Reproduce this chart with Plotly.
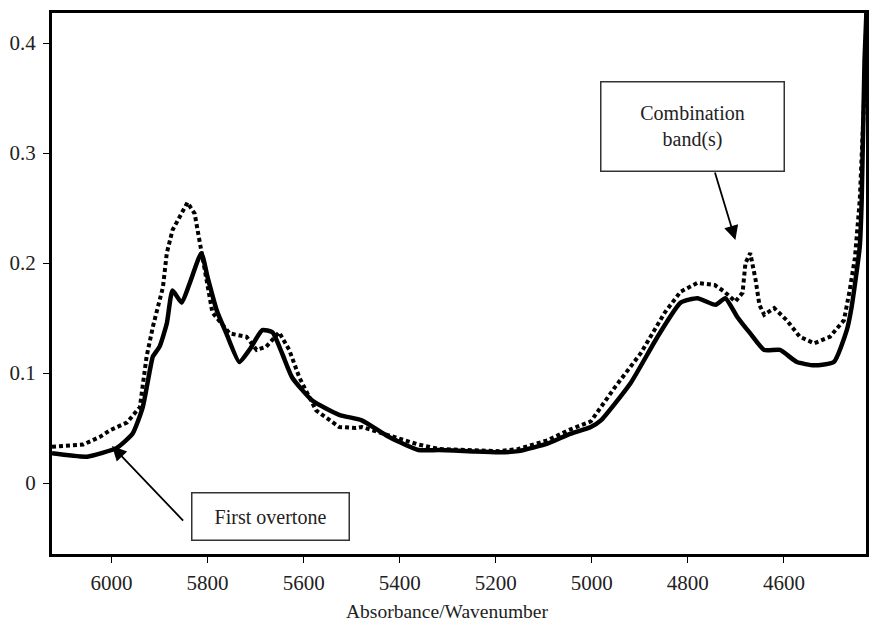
import plotly.graph_objects as go

# Solid spectrum
wn_solid = [6124, 6051, 5989, 5956, 5935, 5920, 5914, 5900, 5885, 5873, 5854, 5837, 5813,
            5800, 5781, 5761, 5734, 5713, 5686, 5665, 5645, 5624, 5582, 5526, 5479, 5423,
            5361, 5319, 5257, 5195, 5153, 5091, 5049, 5002, 4981, 4919, 4863, 4815, 4780,
            4742, 4722, 4697, 4670, 4641, 4608, 4573, 4537, 4496, 4469, 4459, 4442, 4438,
            4432, 4427]
abs_solid = [0.027, 0.024, 0.032, 0.045, 0.069, 0.103, 0.115, 0.124, 0.145, 0.175, 0.164,
             0.182, 0.209, 0.187, 0.157, 0.136, 0.110, 0.121, 0.139, 0.137, 0.118, 0.096,
             0.075, 0.062, 0.057, 0.042, 0.030, 0.030, 0.029, 0.028, 0.029, 0.036, 0.044,
             0.051, 0.057, 0.091, 0.133, 0.164, 0.168, 0.162, 0.168, 0.151, 0.136, 0.121,
             0.121, 0.110, 0.107, 0.110, 0.139, 0.160, 0.215, 0.257, 0.385, 0.44]

# Dotted spectrum
wn_dot = [6124, 6059, 6024, 6003, 5968, 5941, 5927, 5914, 5893, 5885, 5873, 5852, 5842,
          5827, 5817, 5802, 5790, 5754, 5719, 5698, 5678, 5651, 5630, 5609, 5574, 5526,
          5491, 5479, 5443, 5396, 5361, 5319, 5257, 5195, 5153, 5091, 5049, 5002, 4952,
          4898, 4848, 4815, 4780, 4744, 4724, 4701, 4686, 4680, 4670, 4659, 4651, 4641,
          4620, 4594, 4567, 4537, 4504, 4475, 4463, 4452, 4442, 4433, 4427]
abs_dot = [0.033, 0.035, 0.042, 0.048, 0.055, 0.069, 0.115, 0.142, 0.178, 0.209, 0.230,
           0.248, 0.255, 0.245, 0.221, 0.185, 0.155, 0.136, 0.133, 0.121, 0.124, 0.137,
           0.121, 0.096, 0.066, 0.051, 0.050, 0.051, 0.046, 0.039, 0.035, 0.031, 0.030,
           0.029, 0.031, 0.039, 0.048, 0.056, 0.087, 0.118, 0.155, 0.174, 0.182, 0.180,
           0.174, 0.165, 0.173, 0.200, 0.209, 0.185, 0.162, 0.153, 0.159, 0.148, 0.133,
           0.127, 0.133, 0.148, 0.175, 0.205, 0.257, 0.348, 0.44]

x_ticks = [6000, 5800, 5600, 5400, 5200, 5000, 4800, 4600]
y_ticks = [0, 0.1, 0.2, 0.3, 0.4]
y_labels = ["0", "0.1", "0.2", "0.3", "0.4"]
x_title = "Absorbance/Wavenumber"

FONT = "Liberation Serif"
W, H = 872, 629
ML, MR, MT, MB = 52, 3, 13, 75

fig = go.Figure()
fig.add_trace(go.Scatter(x=wn_dot, y=abs_dot, mode="lines",
                         line=dict(color="black", width=4, dash="4px,3px"),
                         showlegend=False))
fig.add_trace(go.Scatter(x=wn_solid, y=abs_solid, mode="lines",
                         line=dict(color="black", width=4.5, shape="spline", smoothing=0.5),
                         showlegend=False))

fig.update_layout(
    width=W, height=H,
    margin=dict(l=ML, r=MR, t=MT, b=MB),
    paper_bgcolor="white", plot_bgcolor="white",
    font=dict(family=FONT, color="#222", size=21),
    xaxis=dict(range=[6124, 4429], tickvals=x_ticks, ticks="outside", ticklen=6,
               tickwidth=1, tickcolor="black", showline=True, linewidth=3,
               linecolor="black", mirror=True, showgrid=False, zeroline=False,
               ticklabelstandoff=2, tickfont=dict(family=FONT, size=21)),
    yaxis=dict(range=[-0.0645, 0.4273], tickvals=y_ticks, ticktext=y_labels,
               ticks="outside", ticklen=6, tickwidth=1, tickcolor="black",
               showline=True, linewidth=3, linecolor="black", mirror=True,
               showgrid=False, zeroline=False, ticklabelstandoff=3,
               tickfont=dict(family=FONT, size=21)),
)

# X-axis title (placed off-centre like the reference)
fig.add_annotation(x=(449 - ML) / (W - ML - MR), y=-(611 - (H - MB)) / (H - MT - MB),
                   xref="paper", yref="paper", text=x_title, showarrow=False,
                   xanchor="center", yanchor="middle",
                   font=dict(family=FONT, size=19.5, color="#222"))

# Text boxes
fig.add_annotation(x=5669, y=-0.030, xref="x", yref="y", text="First overtone",
                   showarrow=False, width=156, height=46, borderpad=0,
                   bordercolor="#333", borderwidth=1.5, bgcolor="white",
                   font=dict(family=FONT, size=20, color="#222"))
fig.add_annotation(x=4790, y=0.3245, xref="x", yref="y", text="Combination<br>band(s)",
                   showarrow=False, width=182, height=88, borderpad=0,
                   bordercolor="#333", borderwidth=1.5, bgcolor="white",
                   font=dict(family=FONT, size=20, color="#222"))

# Arrows
fig.add_annotation(x=5999, y=0.0336, ax=5848, ay=-0.0355, xref="x", yref="y",
                   axref="x", ayref="y", text="", showarrow=True, arrowhead=2,
                   arrowsize=1.6, arrowwidth=1.8, arrowcolor="black")
fig.add_annotation(x=4701, y=0.2209, ax=4744.5, ay=0.2836, xref="x", yref="y",
                   axref="x", ayref="y", text="", showarrow=True, arrowhead=2,
                   arrowsize=1.6, arrowwidth=1.8, arrowcolor="black")

fig.write_html("out.html")
